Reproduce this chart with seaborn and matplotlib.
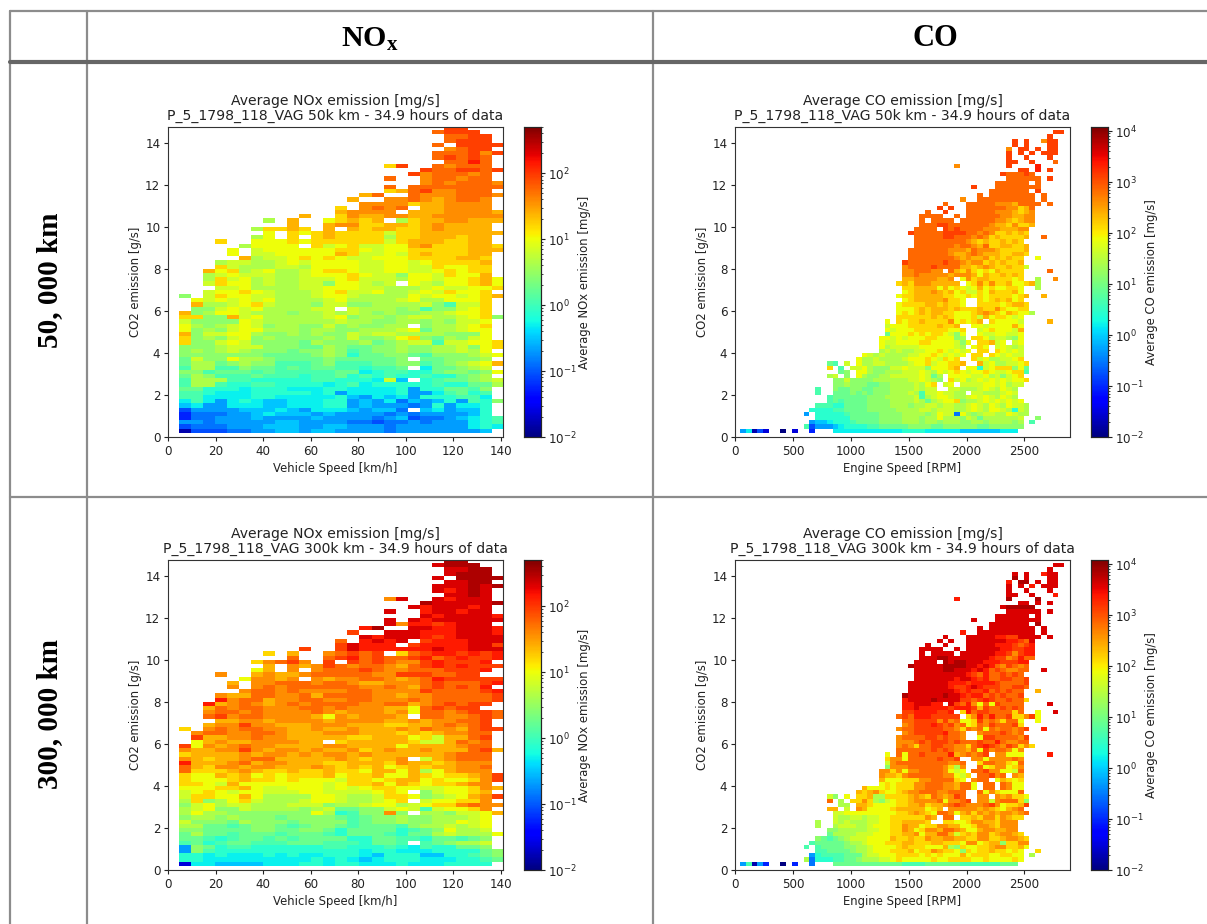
import numpy as np
import pandas as pd
import seaborn as sns
from matplotlib import pyplot as plt
from matplotlib.colors import LogNorm
from matplotlib.lines import Line2D

W, H = 1207, 924

# one string per CO2 bin, top row first: "first_column letters" (spaces in the letters only help counting)
# letters are the position on the jet scale, a = bottom of colourbar, z = top, . = no data
NOX_50K_ROWS = [
    "22 vv", "21 uvvv", "22 uuvv", "22 uvvv", "21 u.vvvv", "22 tuvv", "21 uuuvtv", "21 uvuvu", "22 uuwu",
    "17 rv..utuuu", "20 vuuvvuv", "19 vtuuutu", "17 u..tuutuu", "20 tutuuut", "17 u.uuuuuuuut", "17 rsuvttuuu",
    "15 su..utttuuut", "14 s..ttutstuut", "15 ttttrsstttt", "13 r.tutu.sstttt", "13 stttt.ssstttts",
    "10 s..rtssttsstttttt", "7 o.s..qrsrs.orssttsss", "9 s..sttrrssrstssss", "6 orrsr.s.srssrrstssss",
    "7 q.rqrsrrrrprrsssssss", "6 oq.r.rsrrrrorrsssrss", "3 r..qqqrqrrrrrrprsssrrss",
    "5 oqqqq.rpqrppqqstrrrssr", "4 q.pqqqqqqrrqpqqrrrrrsss", "4 q.ppqqqqqsrppqprsrrrss",
    "5 soppqrqrqppqqqrrrrssr", "3 oppoopqpqqqqppqqpqrrrrs", "3 rpoooppoqqqqppqqpprqqrr",
    "0 ..sqr opqoo pqrrq ppqqp pqrqr r.", "0 ..opq pppoo pqqqr qppnq qprqq s.", "0 ..orp qopoo pppqr pppoq qpqqr sq",
    "0 ..prq qopoo ppnqq pop.q poqqr sq", "0 ...pp qoooo ppqqq ppooo pqppq qr.", "0 ..pqq rqpoo opqrp pqoop qprqq r.",
    "0 n.prq qppoo opqqp ooooq pqqpq rs", "0 .qpqp qpqoo oopqo ooopq ooqqq r.", "0 .soop qrpoo onppn noooo pnlpp r.",
    "0 .nnpq pqooo opp.p ooono lnnpq r.", "0 snoqq pooon oopop ononn oopqq r.", "0 rrnns pqooo oopqn oonop poopq rn",
    "0 pnnnn qpooo ooopo onnoo nonpp q.", "0 qonop qpnoo nnpno nnoo. noopq r.", "0 qnonp qqooo noonn ooopq moopq q.",
    "0 snppq qonno nonnp oppoo oonnn q.", "0 rnonp qnonn nnonp nnoqr nmonp q.", "0 rnnpq pnnnn monnn omnop plppq qr",
    "0 nnnop ppnnn mmonm mnnon noopn qr", "0 nonop onnnm nnonl mnnon noopo q.", "0 nnnnn nnmmm mnonk mmnnm lnnno pq",
    "0 mpnnq oonmm mmnmm mmmn. mmnnn o.", "0 moomn onnll lmnll lmmnn lmnop qs", "0 looll nmmlm lmmll kllm. jmmno p.",
    "0 nnlmm mlmll lllmm jkllk kmnnm nq", "0 monll lmlll kllmk lklkk lkkmn o.", "0 loool lkkkk kllkk kjpi. klmmn op",
    "0 loolk kllkk kkjkl jkkkk klkkm mo.", "0 mmkkk jkkkj jjkkj jjjkh kkmml n.", "0 llkjj jkkkk kjkhj jjjkh hjlmk l.",
    "0 lljjj jkkjj jjjki hjijh kkkll j.", "0 jljhj kjiij jjkkh ihjgi hikhl kn", "0 ijhhj jjiij jjkkh ihhhg hkhjj k.",
    "0 fhhhh iiiji hjjji hiig. ijhii k.", "0 egggh hijii ihihh hhghg hhhhi k.", "0 egghh hihhh hihhh hghif gghij kl",
    "0 hhghh hhhii hhhhg gfggh ghhhj kl", "0 fgggh hhiii hhiih hhghh hhhhj kj", "0 bfffg ghhii hiihh hhghh hhhhh i.",
]
NOX_300K_ROWS = [
    "22 yy", "21 xyyy", "22 xxyy", "22 xyyy", "21 x.yyyy", "22 xxyy", "21 xxxyxy", "21 xwxyx", "22 xxyx",
    "17 tx..xwxxx", "20 yxxxxxy", "19 xwxxxwx", "17 x..wxxwxx", "20 xwxxxxw", "17 x.xwxxxxxxw", "17 xtwwvwxxx",
    "15 wy..xxwwxxxw", "14 v..xxxwwwxxxw", "15 xwxxxwvwxxxx", "13 u.wxwx.vwwwxxx", "13 vxwww.vwwwwxxv",
    "10 v..vxwwwwwwxwwxxxw", "7 r.s..tuvuv.ruvwwvwvw", "9 u..uvwuvuuvwuvwvvw", "6 rtuvt.v.vuvuttvwvvvw",
    "7 s.tstvutuutsuvwvwvvv", "6 qs.t.tuuuvuttuuuvvvw", "3 t..stsstuuuuuttvvvuuvv",
    "5 qttst.tsttuutstuwvvvvv", "4 s.ttuuutuutsstttuvuuuvw", "4 t.tutuuuuuuttutsuvuvuw",
    "5 tuututtttuuttttvuuuuvw", "3 tssuuttusuuuuttsttuuuuuvv", "3 wtuusttuuttuutttutuuuuuvv",
    "0 ..wst utstu tuuuu ttuus tuvuv v.", "0 ..sut uuttt uutut ttssq uvuvv .", "0 ..tuu tuttt tutst ttstq uutuv vu",
    "0 ..uvt uuttt tsqts ttts. uuttu vu", "0 ...ss ttstt ttstt ttsst sttuu v.", "0 ..stt vttss sttts ssrrs stutu v.",
    "0 r.tut uutts stsst sssts uttsu vv", "0 .tuut tuuts ssttt sssrs rsttu u.", "0 .vsst tutts ssssr rsssq rpssu v.",
    "0 .qsts stttt ss.rs ssssr ppsut u.", "0 vqtst uttss sstts sssqs ssstu u.", "0 tsstt vtstt stsst rstss tsssu vs",
    "0 rssss tstts tstts tssss sstuu u.", "0 tsrss tuuss sssts rsst. pstuu u.", "0 wssst ustts ssrrs ssrts srstt t.",
    "0 usrtt sttss stsrs rsqrs rsstt u.", "0 urrrs tsrrs rrsrr qssqs oqstt t.", "0 rqqsr sqrqr rrsqr rsqqs rqrrs tv",
    "0 rqqqr srrqr qqqpr rqrss qrqqr tv", "0 rrqps qqqqq qqpqr rsqsr qrrst t.", "0 qqqrr sqppq qqpqp qrrqq ppqqr ts",
    "0 pqrqp qqppp qqppp pqrq. npqqr s.", "0 prrqq sqooo oqqpo oprrq nopqs tv", "0 ornoq rpooo pqqpo opqr. pqqrr t.",
    "0 npqop pooop ppnoo pqqop qrrtu tt", "0 opqnn poooo nopmm nnpqp lpqqr t.", "0 oqoon nnnnn nqokl nntn. oonpp qs",
    "0 noono nnnmn nnnml mnnon nooop q.", "0 pnnnm onnnm nnnnl mnnon nooqp q.", "0 oomml mnnml mnnml mmmln oopop q.",
    "0 nnmmm mnnmm nnmkm mmmkl mnqoo p.", "0 momml mmmlm mmlkm mmlkm mopoo oq", "0 mmlkl mmlml mmmmk kmmll kmmlm n.",
    "0 lmklm mlllm mmlll kmml. lmnoo p.", "0 hnmkl lkkkk kkllk kklkj lkkmm n.", "0 hnlkk kkkkk kkkkk jkkjj jkkkk mn",
    "0 kkjkj jjkjk jjkkk jikkk iikkl mn", "0 kkjjj jjjjj jkjkj ijkkk jjjkk lm", "0 cjjii iijjj kkjkk jjjkj jjkkk k.",
]
CO_50K_ROWS = [
    "", "54 vv", "53 v", "47 v.v..tvv", "47 v.v...vv", "46 t.vv.v.vv", "46 v.v.v.vvv", "46 v..v...v", "46 vv..v...u",
    "37 t........v....w", "48 vv.w.v", "45 vuuuvu", "46 uuuuuu.v", "44 uuuuuu.u", "40 v...uuuuuuuu", "43 uuuuuuu.v",
    "41 u.uuuuuuuu.u", "38 t..uuuuuuuuuu.u", "35 u...uuuuu tttsuuuu.u", "34 v.v.. uuuuu uuttr su",
    "32 u..v... uuuuu tttsr st", "31 uuuu..u. uuuuu uttss tt", "31 u.uuuu.uuuuuu ttsrs tt", "31 uuuvv uuuuu uutss rtrrs",
    "30 uuuu. vuvuu uuttt ssstt", "29 vuuuu uvvvv uutut rrsrs r", "30 uuuuu vvuuu tutrs rrrrs ..u", "30 uuuuu uuuut srsrr srsr",
    "30 uuuuu uutuu tsurr ssrrs", "29 uuuuu uuttt suttt srrrr s", "29 uuuuu uutss tutss srrss r", "29 uuuuu uuuts tsstr srsrr ..q",
    "28 vuuuu uuvuu tsttr srsrr s", "28 tuuuu vuuuu ssrst srrsr rp", "28 ttuuu tt.us rtrqr qsrrr r....u", "28 ttutt tttst ttsqs rrsrs r",
    "28 ssttt tsst. qtrss rrrrq r..o..t", "27 rsrtt tssss s.qrt rtrrs qqrso", "28 rrsss sqsqr qpqsq rqqrr q..o", "28 qrsss tsrsq rpprq srrrs q",
    "27 qrrss sssrr qqrqr qrrrr qrs..s", "28 qrsss sstrr q..rq rsrsq r", "27 qrrrr ssrsr rq..r rrrqr ssr", "27 qqqrs rsssr srrrs rrtrq qrr",
    "27 qrqrs rssrr qqqrs tsrqs rqqo", "27 rrrrr rsrsr qqqrp sqrrq pq", "25 q.rqr rsrrr rtqrq rs.rq qqqp....s", "25 pqqqr rrrrs rrs.. qqpqq qqsq",
    "25 qpqqq rrrrr rqqr. .pqrq qqps", "25 mqqqr qrqrr qpnq. .qppq qppq", "24 qqpqp qqqrr qqqno .rrqo pponq", "24 qppqq qqrrq qqqpn q.rrs pq.pq",
    "24 qoppp ppqqq qqqpo .qrq. pqpop", "24 opopo oppqq rqpqp q.rr. rqpqp", "21 qpo poooo ppqqr qpqpq .rr.r qpqpp", "20 qoop oooop qqqrq prqr. .rpqo oppqr",
    "15 ml.p. qoopp oooop qqrpq qrrs. .spqo oppqr", "15 r.l.p pqonn nppqp ppnqq qrs.q qkpqr rrnqm", "17 mn. qqonn ooopp pqpoq pqrqp qqrqp pqrrl",
    "15 op.n. qonno opppp pqpmo .qqqq ppqop npqr", "16 nnpn nnnoo oooop pqpon .rpqo pqpqp qpqqr", "16 nnon nnmmn noooo poqr. pq.pp ppqqp qopp",
    "13 l.. nmmn nmmnn noooo popp. .ppoo opqpo qpo", "13 l.. mmmn mnmnn nooop olppq ppoo. ppooo pqp", "15 lmmmm mmnnn ooooo plopq qpoop qpqpo qpo", "15 lmlmm mmnnn noooo pomop qqrno opqpq pqpq",
    "13 lll kkmmm mnnnn ooono oppop poopq poqpo qppo", "12 kkkk llmmm mnnnn noooo ppopp poopq poqqp okpo", "11 h.kk kkklm mmmmn nnnoo oonoq ppgqo noppo oqpoo",
    "13 kk kkkkm mmmmn nnnoo onooq ooonp omooo ooop ..n", "12 hii jkkkl mmmmn nnnoo onoon ooonn oonoo oono .l", "11 lf hhhij kkkkl lmmmm mnnnn mmnnn nnnmm nnnnn n",
    "0 hjbfc ..a.c ..e.. .jjjj jjjjj jjjkk kkjjj jjjii iiiii jjj",
]
CO_300K_ROWS = [
    "", "54 xx", "53 x", "47 x.x..wxx", "47 y.x...xx", "46 w.yy.x.xx", "46 x.x.w.xxx", "46 x..x...x", "46 xx..x...w",
    "37 w........y....y", "48 xx.x.x", "45 xyyyyy", "46 xxxxxx.x", "44 xxxxxx.x", "40 x...xxxxxxxx", "43 xxxxxxx.y",
    "41 x.xxxxxxxx.x", "38 w..xxxxxxxxxx.x", "35 x...xxxxx wwvvxxxx.x", "34 x.x.. xxxxx xxwwv ux",
    "32 x..x... xxxxx wwwvu vw", "31 xxxx..x. xxxxx xwwvv ww", "31 x.xxxx.xxxxxx wwvtv ww", "31 xxxyy xxxxx xxwvv tuwuu",
    "30 xxxx. yxyyx xxwww vvvww", "29 yxxxx xyyyy xxwxw utvut u", "30 xxxxx yyxxx wxwuv uttuu ..x", "30 xxxxx xxxxw vuwuu vuvu",
    "30 xxxxx xxwxx wvwuu vvuuv", "29 xxxxx xxwww vwwww vuuuu v", "29 xxxxx xxwvv wxwvv vuuvv u", "29 xxxxx xxxwv wvvwu vuvuu ..s",
    "28 yxxxx xxyxx wvwwu vuvuu v", "28 wxxxx yxxxx vvuvw vuuvu ur", "28 wwxxx ww.xv uwtqu qvuuu u....x", "28 wwxww wwwvw wwvsv uuvuv u",
    "28 vvwww wvvw. rwuvv uuuur u..q..x", "27 uvuww wvvvv v.rtw uwuuv rrtvq", "28 uuvvv vtvtu qqrvt utruu q..q", "28 tuvvv wvuvt uqrut vuuuv r",
    "27 tuuvv vvvuu trutu qutuu tuv..w", "28 tuvvv vvwuu t..tu uuvut u", "27 tuuuu vvuvu ut..q vvuuu utv", "27 tttuv uvvvu vuuuv uuwut tuu",
    "27 tutru uvvuu ttruv wvutv urtr", "27 uuuuu uvuvu ttsuq vtuut qt", "25 q.uqu uvuuu uwstu tuv.t tqqq....w", "25 rttqu uuuuv uuv.. ttqtt ttut",
    "25 ptuuu uuuuu uttu. .ruut trqu", "25 ntttu uuuuu trot. .uqrt tqrt", "24 ttrtq ttuuu utqpq .uuvt tqqpu", "24 tssrt uuuuu uttqp r.uuv tu.ts",
    "24 sqqqr rrttu uuurq .tuu. qsrqr", "24 qrqrr rttuu uttsu uq.uu .utqq", "21 sqq qrqrr rttuu uttsu uq.uu .utqq", "20 srst rqqrs ttuuu ttuuu ..uqt rqqqu",
    "15 pn.q. rrsoo rrrrs tsrut stvu. .tt.t strrq", "15 u.o.r rtron pqrrs ttttu qttuv .ttpt uuurn", "17 oo. ssrqq qqrrs strss tuvut ttuvt qrrsv",
    "15 ss.p. tsqqq qrsss ssqrs .tttt tstsr qstu", "16 ppqq qqqqq qqrrs tsrqu utqst rtsts ttstu", "16 poop poppq qrrrr rrts. uu.rr srttr tsrr",
    "13 o.. popo ooppq qrrss ssr.. rrqqr ttssr ttt", "13 o.. oppp oopqq qrrts sqrrt tssqq rttsr ttt", "15 nnooo ooppq qrrts qrtts uutsq qstts stt", "15 moooo pppqq qrrss tqssu usprs rttrs ttsr",
    "13 nml mnopp pqqqq srrsr rtsst tssrr ttrrs ttsr", "12 lmmm mmnoo pqqqr rrssr rrssr rrqtt qrssn rrtt", "11 l.lm mmmnn oopqq qqrsr rrqqq sonrq qrrst trrsq",
    "13 ll mmmmn oopqq qrrrs qrrts rrqnr qrrsr rqrq ..r", "12 hkl lllmm moppq qqrrr rqrqr qqqsq rrrqq rrqq .o", "11 og kkkll mmnoo oppqr qqqqq rqqrr rrqqr qqqqr q",
    "0 hlbhe ..a.e ..g.. .mmmm mmmmm mmmll llmmm mmmll lllll mmm",
]

TITLES = ["Average NOx emission [mg/s]", "Average CO emission [mg/s]"]
VEHICLE_LABELS = ["P_5_1798_118_VAG 50k km - 34.9 hours of data", "P_5_1798_118_VAG 300k km - 34.9 hours of data"]
SPEED_TICKS = [0, 20, 40, 60, 80, 100, 120, 140]
RPM_TICKS = [0, 500, 1000, 1500, 2000, 2500]
CO2_TICKS = [0, 2, 4, 6, 8, 10, 12, 14]
ROW_LABELS = ["50, 000 km", "300, 000 km"]

sns.set_theme(style="white")
plt.rcParams["font.family"] = "DejaVu Sans"
plt.rcParams["mathtext.fontset"] = "custom"
plt.rcParams["mathtext.bf"] = "Liberation Serif:bold"


def rows_to_frame(rows, n_cols, vmin, vmax):
    grid = np.full((len(rows), n_cols), np.nan)
    for i, row in enumerate(rows):
        if not row:
            continue
        start, letters = row.split(" ", 1)
        for k, c in enumerate(letters.replace(" ", "")):
            if c != "." and int(start) + k < n_cols:
                grid[i, int(start) + k] = vmin * (vmax / vmin) ** ((ord(c) - 97) / 25)
    return pd.DataFrame(grid[::-1])


def axes_at(x0, y0, x1, y1):
    return fig.add_axes([x0 / W, 1 - y1 / H, (x1 - x0) / W, (y1 - y0) / H])


def panel(rows, n_cols, left, top, vmax, title, label, xlabel, xticks, x_start, x_bin, x_max):
    ax = axes_at(left, top, left + 335, top + 310)
    cax = axes_at(left + 355.5, top, left + 372.5, top + 310)
    df = rows_to_frame(rows, n_cols, 1e-2, vmax)
    sns.heatmap(df, ax=ax, cbar_ax=cax, cmap="jet", norm=LogNorm(1e-2, vmax), xticklabels=False, yticklabels=False,
                cbar_kws={"label": title})
    ax.set_xlim((0 - x_start) / x_bin, (x_max - x_start) / x_bin)
    ax.set_ylim((0 - 0.2) / 0.2, (14.75 - 0.2) / 0.2)
    ax.set_xticks([(t - x_start) / x_bin for t in xticks], [str(t) for t in xticks])
    ax.set_yticks([(t - 0.2) / 0.2 for t in CO2_TICKS], [str(t) for t in CO2_TICKS])
    ax.tick_params(length=3, width=0.8, labelsize=8.6, colors="#222222", bottom=True, left=True, pad=2.5, rotation=0)
    for s in ax.spines.values():
        s.set_visible(True)
        s.set_color("#333333")
        s.set_linewidth(0.8)
    ax.set_xlabel(xlabel, fontsize=8.4, labelpad=3, color="#222222")
    ax.set_ylabel("CO2 emission [g/s]", fontsize=8.4, labelpad=2, color="#222222")
    ax.set_title(title + "\n" + label, fontsize=10.1, pad=5.5, color="#222222", linespacing=1.0)
    cax.tick_params(labelsize=8.6, length=3, width=0.8, which="major", colors="#222222", right=True, pad=2.5)
    cax.tick_params(length=1.5, width=0.6, which="minor", right=True)
    cax.yaxis.label.set_size(8.4)
    cax.yaxis.labelpad = 1
    cax.yaxis.label.set_color("#222222")
    for s in cax.spines.values():
        s.set_visible(True)
        s.set_linewidth(0.8)


fig = plt.figure(figsize=(W / 100, H / 100), dpi=100, facecolor="white")

# table lines
for x in [10, 87, 653]:
    fig.add_artist(Line2D([x / W, x / W], [1 - 11 / H, 0], color="#8c8c8c", lw=1.6))
for y, lw, c in [(11, 1.6, "#8c8c8c"), (61.5, 3, "#666666"), (496.5, 1.6, "#8c8c8c")]:
    fig.add_artist(Line2D([10 / W, 1], [1 - y / H, 1 - y / H], color=c, lw=lw))

serif = {"family": "Liberation Serif", "weight": "bold", "color": "black"}
fig.text(370 / W, 1 - 39 / H, r"$\mathbf{NO_x}$", fontsize=21.5, ha="center", va="center", **serif)
fig.text(935 / W, 1 - 38 / H, "CO", fontsize=22, ha="center", va="center", **serif)
fig.text(50 / W, 1 - 280 / H, ROW_LABELS[0], fontsize=21, ha="center", va="center", rotation=90, **serif)
fig.text(50 / W, 1 - 714 / H, ROW_LABELS[1], fontsize=21, ha="center", va="center", rotation=90, **serif)

panel(NOX_50K_ROWS, 27, 168, 127, 500, TITLES[0], VEHICLE_LABELS[0], "Vehicle Speed [km/h]", SPEED_TICKS, 4.7, 5.06, 141)
panel(NOX_300K_ROWS, 27, 168, 560, 500, TITLES[0], VEHICLE_LABELS[1], "Vehicle Speed [km/h]", SPEED_TICKS, 4.7, 5.06, 141)
panel(CO_50K_ROWS, 56, 735, 127, 1.2e4, TITLES[1], VEHICLE_LABELS[0], "Engine Speed [RPM]", RPM_TICKS, 43, 50, 2894)
panel(CO_300K_ROWS, 56, 735, 560, 1.2e4, TITLES[1], VEHICLE_LABELS[1], "Engine Speed [RPM]", RPM_TICKS, 43, 50, 2894)

plt.savefig("out.png", dpi=100)
